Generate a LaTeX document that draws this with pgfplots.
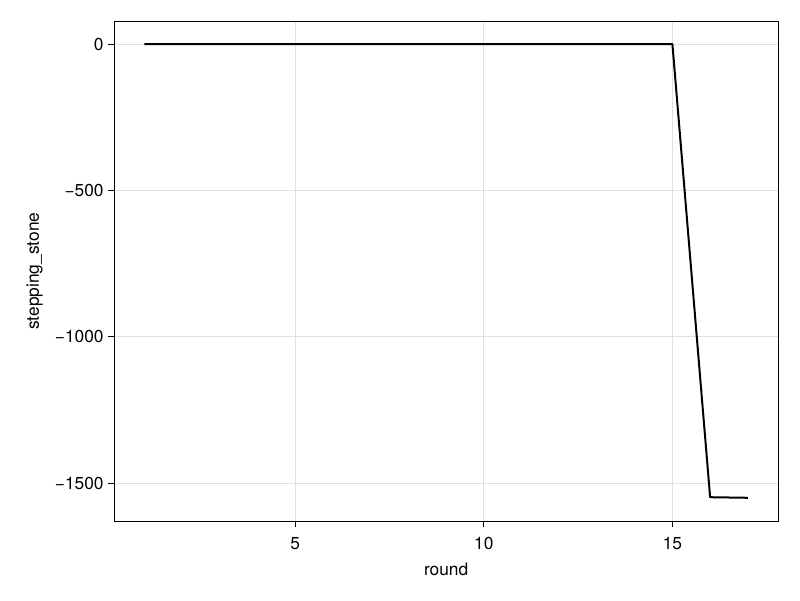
\documentclass[border=0pt]{standalone}
\usepackage{pgfplots}
\pgfplotsset{compat=1.18}
\usepackage{fontspec}
\setmainfont{TeX Gyre Heros}
\begin{document}
\begin{tikzpicture}
\begin{axis}[
    scale only axis,
    width=497.8pt, height=374.8pt,
    xmin=0.2, xmax=17.8,
    ymin=-1629.5, ymax=77.5,
    xtick={5,10,15},
    ytick={-1500,-1000,-500,0},
    yticklabels={−1500,−1000,−500,0},
    xticklabels={5,10,15},
    xtick pos=bottom, ytick pos=left,
    tick align=outside,
    major tick length=4.5pt,
    tick style={black, line width=0.75pt},
    axis line style={black, line width=0.75pt},
    grid=major,
    major grid style={black!12, line width=0.75pt},
    xlabel={round},
    ylabel={stepping\_stone},
    label style={font=\fontsize{13}{15}\selectfont},
    tick label style={font=\fontsize{13}{15}\selectfont},
    xticklabel style={yshift=-4pt},
    xlabel style={at={(axis description cs:0.5,0)}, anchor=center, yshift=-36.5pt},
    ylabel style={at={(axis description cs:0,0.5)}, anchor=center, yshift=59.7pt},
]
\addplot[black, line width=1.5pt, line join=round] coordinates {
(1,0) (2,0) (3,0) (4,0) (5,0) (6,0) (7,0) (8,0) (9,0) (10,0)
(11,0) (12,0) (13,0) (14,0) (15,0) (16,-1548) (17,-1550)
};
\end{axis}
\useasboundingbox ([xshift=-85.7pt,yshift=-59.25pt]current axis.south west) rectangle ([xshift=16.5pt,yshift=16pt]current axis.north east);
\end{tikzpicture}
\end{document}
